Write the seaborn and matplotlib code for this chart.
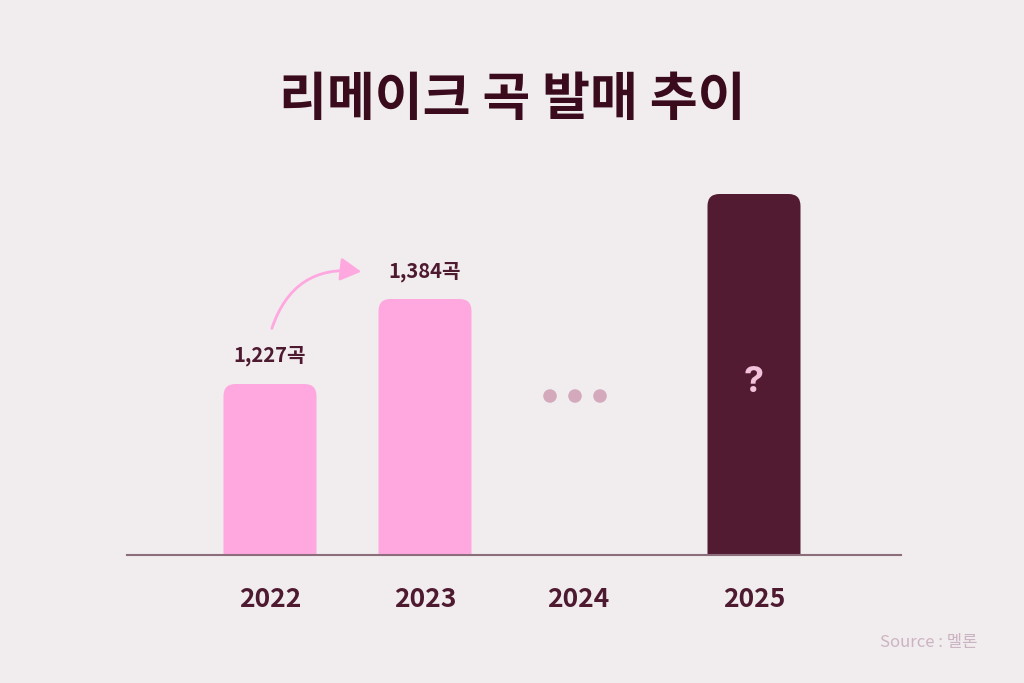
import matplotlib
matplotlib.use("Agg")
import matplotlib.pyplot as plt
import seaborn as sns
from matplotlib.patches import FancyBboxPatch, FancyArrowPatch

# data (bar heights are drawn for illustration, not to scale)
years = ["2022", "2023", "2024", "2025"]
bar_heights = [171, 256, 0, 361]
bar_labels = ["1,227곡", "1,384곡", "", "?"]

# layout
x_pos = [270, 425, 578, 754]
bar_colors = ["#ffa8e0", "#ffa8e0", "#ffa8e0", "#521b32"]
bg = "#f1ecee"
dark = "#4e1a30"

sns.set_style("white")
plt.rcParams["font.family"] = ["Noto Sans CJK KR", "DejaVu Sans"]

fig = plt.figure(figsize=(10.24, 6.83), dpi=100, facecolor=bg)
ax = fig.add_axes([127 / 1024, 1 - 555 / 683, (901 - 127) / 1024, (555 - 150) / 683])
ax.set_facecolor(bg)

sns.barplot(x=x_pos, y=bar_heights, hue=years, palette=bar_colors, saturation=1,
            native_scale=True, width=93 / 153, legend=False, ax=ax)

# swap plain bars for ones with rounded top corners
r = 12
for p in list(ax.patches):
    x, w, h = p.get_x(), p.get_width(), p.get_height()
    fc = p.get_facecolor()
    p.remove()
    if h <= 0:
        continue
    ax.add_patch(FancyBboxPatch((x, -r), w, h + r,
                                boxstyle=f"round,pad=0,rounding_size={r}",
                                fc=fc, ec="none"))

ax.set_xlim(127, 901)
ax.set_ylim(0, 405)

# value labels
for xp, h, lab in zip(x_pos[:2], bar_heights[:2], bar_labels[:2]):
    ax.text(xp, h + 28, lab, ha="center", va="center", fontsize=14.5,
            fontweight="bold", color=dark)
ax.text(x_pos[3], 172, bar_labels[3], ha="center", va="center", fontsize=26,
        fontweight="bold", color="#f2c2db", family=["Inter", "DejaVu Sans"])

# "..." for 2024
ax.scatter([x_pos[2] - 28, x_pos[2] - 3, x_pos[2] + 22], [159, 159, 159],
           s=95, color="#d3a9bb", edgecolor="none", zorder=3)

# growth arrow
arrow = FancyArrowPatch((271, 224), (364, 283), connectionstyle="arc3,rad=-0.42",
                        arrowstyle="-|>,head_length=0.9,head_width=0.5",
                        mutation_scale=14, color="#ffa8e0", lw=2)
ax.add_patch(arrow)

ax.set_xticks(x_pos)
ax.set_xticklabels(years, fontsize=19, fontweight="bold", color=dark)
ax.tick_params(axis="x", length=0, pad=22)
ax.set_yticks([])
ax.set_xlabel("")
ax.set_ylabel("")
for s in ["top", "right", "left"]:
    ax.spines[s].set_visible(False)
ax.spines["bottom"].set_color("#8c6d7b")
ax.spines["bottom"].set_linewidth(1.5)

fig.text(0.5, 1 - 100 / 683, "리메이크 곡 발매 추이", ha="center", va="center",
         fontsize=37.5, fontweight="bold", color="#3a0b1c")
fig.text(978 / 1024, 1 - 642 / 683, "Source : 멜론", ha="right", va="center",
         fontsize=12, color="#cbb4c1")

fig.savefig("out.png", dpi=100, facecolor=bg)
